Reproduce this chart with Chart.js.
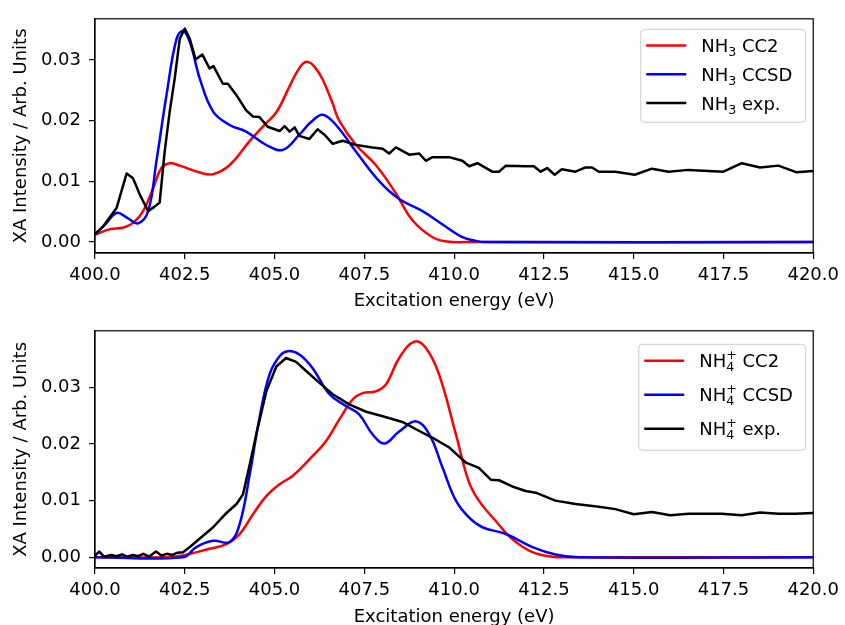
<!DOCTYPE html>
<html>
<head>
<meta charset="utf-8">
<script src="https://cdn.jsdelivr.net/npm/chart.js"></script>
<style>
body { margin:0; overflow:hidden; background:#fff; }
#top { position:absolute; left:0; top:0; }
#bot { position:absolute; left:0; top:312px; }
</style>
</head>
<body>
<canvas id="top" width="845" height="312"></canvas>
<canvas id="bot" width="845" height="316"></canvas>
<script>
// x axis ticks (eV) and y ticks
var xTicks = [400, 402.5, 405, 407.5, 410, 412.5, 415, 417.5, 420];
var yTicks = [0, 0.01, 0.02, 0.03];

// NH3 - CC2
var nh3Cc2E = [400.0,400.4,400.8,401.07,401.34,401.62,401.85,402.08,402.36,402.9,403.29,403.75,404.3,404.7,405.05,405.42,405.6,405.79,405.93,406.1,406.34,406.62,406.8,407.27,407.82,408.38,408.84,409.4,409.8,410.3,420.0];
var nh3Cc2I = [0.0012,0.0021,0.0024,0.0032,0.0051,0.0089,0.0122,0.0130,0.0126,0.0115,0.0112,0.0127,0.0166,0.0192,0.0214,0.0257,0.0278,0.0294,0.0297,0.0290,0.0268,0.0228,0.0200,0.0160,0.0127,0.0080,0.0036,0.0008,0.0001,0.0,0.0];

// NH3 - CCSD
var nh3CcsdE = [400.0,400.3,400.6,400.9,401.2,401.48,401.71,401.99,402.27,402.45,402.64,402.92,403.29,403.75,404.21,404.77,405.23,405.69,406.0,406.34,406.71,407.27,407.92,408.47,409.12,409.68,410.2,410.6,410.9,420.0];
var nh3CcsdI = [0.0013,0.0030,0.0048,0.0040,0.0031,0.0051,0.0133,0.0242,0.0335,0.0348,0.0330,0.0269,0.0215,0.0193,0.0182,0.0160,0.0152,0.0177,0.0197,0.0210,0.0193,0.0149,0.0100,0.0071,0.0051,0.0029,0.0009,0.0002,0.0,0.0];

// NH3 - experiment
var nh3ExpE = [400.0,400.23,400.6,400.88,401.06,401.25,401.48,401.65,401.8,401.94,402.08,402.22,402.36,402.5,402.64,402.8,402.99,403.19,403.3,403.56,403.7,403.94,404.21,404.4,404.58,404.81,405.14,405.28,405.42,405.56,405.69,405.97,406.2,406.39,406.62,406.9,407.27,407.73,408.01,408.19,408.38,408.75,409.03,409.21,409.4,409.86,410.23,410.42,410.65,411.06,411.25,411.44,411.99,412.22,412.41,412.59,412.8,413.0,413.38,413.66,413.84,414.03,414.49,415.03,415.51,415.97,416.53,417.5,418.01,418.52,419.03,419.54,420.0];
var nh3ExpI = [0.0013,0.0026,0.0056,0.0113,0.0105,0.0078,0.0051,0.0058,0.0065,0.0149,0.0215,0.0270,0.0335,0.0352,0.0335,0.0301,0.0309,0.0286,0.0290,0.0261,0.0261,0.0242,0.0217,0.0207,0.0206,0.0190,0.0183,0.0191,0.0182,0.0189,0.0175,0.0170,0.0186,0.0177,0.0162,0.0167,0.0160,0.0156,0.0154,0.0146,0.0156,0.0144,0.0146,0.0134,0.0140,0.0140,0.0134,0.0125,0.0130,0.0116,0.0116,0.0126,0.0125,0.0125,0.0116,0.0122,0.0111,0.0120,0.0116,0.0123,0.0123,0.0116,0.0116,0.0111,0.0121,0.0116,0.0119,0.0116,0.0130,0.0123,0.0126,0.0115,0.0117];

// NH4+ - CC2
var nh4Cc2E = [400.0,402.0,402.3,402.64,403.19,403.66,404.03,404.4,404.77,405.14,405.51,405.97,406.43,406.8,407.18,407.45,407.82,408.1,408.47,408.89,409.21,409.58,410.05,410.4,410.69,411.16,411.62,412.18,412.73,413.2,420.0];
var nh4Cc2I = [0.0,0.0,0.0002,0.0006,0.0015,0.0023,0.0041,0.0076,0.0108,0.0129,0.0144,0.0173,0.0205,0.0243,0.0279,0.0290,0.0293,0.0305,0.0352,0.0381,0.0370,0.0323,0.0217,0.0135,0.0100,0.0064,0.0032,0.0009,0.0001,0.0,0.0];

// NH4+ - CCSD
var nh4CcsdE = [400.0,402.45,402.82,403.29,403.75,404.03,404.31,404.58,404.86,405.14,405.37,405.69,406.06,406.53,406.99,407.36,407.73,408.06,408.47,408.94,409.31,409.68,410.05,410.42,410.79,411.44,412.18,412.82,413.47,420.0];
var nh4CcsdI = [0.0,0.0,0.0018,0.0029,0.0027,0.0059,0.0147,0.0246,0.0323,0.0355,0.0364,0.0358,0.0334,0.0288,0.0267,0.0252,0.0217,0.0201,0.0222,0.0240,0.0217,0.0158,0.0100,0.0070,0.0053,0.0041,0.0018,0.0005,0.0,0.0];

// NH4+ - experiment
var nh4ExpE = [400.0,400.12,400.25,400.45,400.6,400.75,400.9,401.05,401.2,401.35,401.5,401.7,401.85,402.0,402.15,402.3,402.45,402.64,403.01,403.29,403.61,403.94,404.12,404.31,404.49,404.77,405.05,405.32,405.6,405.88,406.25,406.62,407.08,407.55,408.01,408.56,409.03,409.4,409.86,410.33,410.69,411.02,411.25,411.62,411.99,412.27,412.82,413.38,414.03,414.49,415.0,415.51,416.02,416.53,417.45,418.01,418.52,419.03,419.49,420.0];
var nh4ExpI = [0.0003,0.0010,0.0001,0.0004,0.0002,0.0005,0.0001,0.0004,0.0002,0.0006,0.0001,0.0010,0.0003,0.0006,0.0004,0.0008,0.0009,0.0018,0.0038,0.0053,0.0075,0.0094,0.0111,0.0164,0.0217,0.0293,0.0337,0.0352,0.0345,0.0329,0.0308,0.0288,0.0270,0.0257,0.0249,0.0239,0.0223,0.0211,0.0194,0.0167,0.0158,0.0137,0.0136,0.0125,0.0117,0.0114,0.0100,0.0094,0.0089,0.0085,0.0076,0.0080,0.0074,0.0077,0.0077,0.0074,0.0079,0.0077,0.0077,0.0078];

Chart.defaults.font.family = "'DejaVu Sans', sans-serif";
Chart.defaults.font.size = 18;
Chart.defaults.color = '#000';

function pts(e, v) {
	return e.map(function(x, i) { return {x: x, y: v[i]}; });
}

function series(label, e, v, color, smooth, order) {
	return {
		label: label,
		data: pts(e, v),
		borderColor: color,
		backgroundColor: color,
		borderWidth: 2.5,
		pointRadius: 0,
		fill: false,
		tension: smooth ? 0.4 : 0,
		borderJoinStyle: 'round',
		order: order
	};
}

function makeOptions(yMin, yMax, padTop, xAxisH) {
	return {
		responsive: false,
		animation: false,
		devicePixelRatio: 1,
		layout: {padding: {top: padTop, right: 30, left: 0, bottom: 0}},
		plugins: {legend: {display: false}, tooltip: {enabled: false}},
		scales: {
			x: {
				type: 'linear', min: 400, max: 420,
				afterBuildTicks: function(s) { s.ticks = xTicks.map(function(v) { return {value: v}; }); },
				ticks: {color: '#000', padding: 6, maxRotation: 0, autoSkip: false,
					callback: function(v) { return Number(v).toFixed(1); }},
				grid: {drawOnChartArea: false, tickLength: 6, color: '#000', lineWidth: 1.2},
				border: {color: '#000', width: 1.2},
				title: {display: true, text: 'Excitation energy (eV)', color: '#000', padding: 0},
				afterFit: function(s) { s.height = xAxisH; }
			},
			y: {
				type: 'linear', min: yMin, max: yMax,
				afterBuildTicks: function(s) { s.ticks = yTicks.map(function(v) { return {value: v}; }); },
				ticks: {color: '#000', padding: 8,
					callback: function(v) { return Number(v).toFixed(2); }},
				grid: {drawOnChartArea: false, tickLength: 6, color: '#000', lineWidth: 1.2},
				border: {color: '#000', width: 1.2},
				title: {display: true, text: 'XA Intensity / Arb. Units', color: '#000', padding: {top: 11, bottom: 0}},
				afterFit: function(s) { s.width = 95; }
			}
		}
	};
}

// frame + legend drawn inside the plot area, like matplotlib
function framePlugin(items, sub, sup, box) {
	return {
		id: 'frameLegend',
		afterDraw: function(chart) {
			var ctx = chart.ctx, a = chart.chartArea;
			ctx.save();
			ctx.strokeStyle = '#000';
			ctx.lineWidth = 1.2;
			ctx.strokeRect(a.left, a.top, a.right - a.left, a.bottom - a.top);

			var x0 = a.right - box.right - box.w, y0 = a.top + box.top;
			ctx.beginPath();
			ctx.roundRect(x0 + 0.5, y0 + 0.5, box.w, box.h, 4);
			ctx.fillStyle = 'rgba(255,255,255,0.8)';
			ctx.fill();
			ctx.strokeStyle = '#cccccc';
			ctx.lineWidth = 1;
			ctx.stroke();

			items.forEach(function(it, i) {
				var y = y0 + box.row0 + i * box.step;
				ctx.strokeStyle = it.color;
				ctx.lineWidth = 2.5;
				ctx.beginPath();
				ctx.moveTo(x0 + 6, y);
				ctx.lineTo(x0 + 46, y);
				ctx.stroke();

				var base = y + 6.6;
				var tx = x0 + 61;
				ctx.fillStyle = '#000';
				ctx.textBaseline = 'alphabetic';
				ctx.textAlign = 'left';
				ctx.font = "18px 'DejaVu Sans'";
				ctx.fillText('NH', tx, base);
				tx += ctx.measureText('NH').width;
				ctx.font = "12.6px 'DejaVu Sans'";
				var w = ctx.measureText(sub).width;
				ctx.fillText(sub, tx, base + 4);
				if (sup) {
					ctx.fillText(sup, tx, base - 8);
					w = Math.max(w, ctx.measureText(sup).width);
				}
				tx += w;
				ctx.font = "18px 'DejaVu Sans'";
				ctx.fillText(' ' + it.name, tx, base);
			});
			ctx.restore();
		}
	};
}

var legendItems = [
	{name: 'CC2', color: '#ff0000'},
	{name: 'CCSD', color: '#0000ff'},
	{name: 'exp.', color: '#000000'}
];

new Chart(document.getElementById('top'), {
	type: 'line',
	data: {
		datasets: [
			series('NH3 CC2', nh3Cc2E, nh3Cc2I, '#ff0000', true, 3),
			series('NH3 CCSD', nh3CcsdE, nh3CcsdI, '#0000ff', true, 2),
			series('NH3 exp.', nh3ExpE, nh3ExpI, '#000000', false, 1)
		]
	},
	options: makeOptions(-0.0018, 0.0368, 15, 59),
	plugins: [framePlugin(legendItems, '3', '', {right: 8, w: 165, top: 10, h: 93, row0: 16.7, step: 28.8})]
});

new Chart(document.getElementById('bot'), {
	type: 'line',
	data: {
		datasets: [
			series('NH4+ CC2', nh4Cc2E, nh4Cc2I, '#ff0000', true, 3),
			series('NH4+ CCSD', nh4CcsdE, nh4CcsdI, '#0000ff', true, 2),
			series('NH4+ exp.', nh4ExpE, nh4ExpI, '#000000', false, 1)
		]
	},
	options: makeOptions(-0.0019, 0.0400, 17, 60),
	plugins: [framePlugin(legendItems, '4', '+', {right: 8, w: 167, top: 13, h: 106, row0: 17, step: 34})]
});
</script>
</body>
</html>
